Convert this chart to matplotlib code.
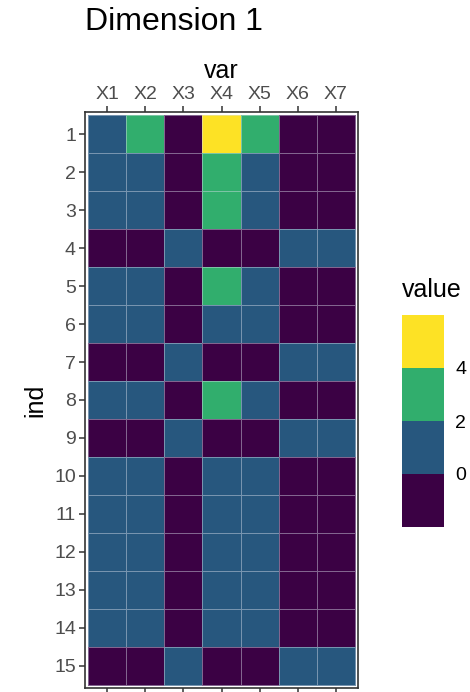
import numpy as np
import matplotlib
matplotlib.use("Agg")
import matplotlib.pyplot as plt
from matplotlib.colors import ListedColormap, BoundaryNorm
import matplotlib.colorbar as mcolorbar

plt.rcParams['font.family'] = ['Liberation Sans', 'DejaVu Sans']

# data: 15 individuals x 7 variables
var_labels = ["X1", "X2", "X3", "X4", "X5", "X6", "X7"]
ind_labels = [str(i) for i in range(1, 16)]
values = np.array([
    [1, 3, -1, 5, 3, -1, -1],
    [1, 1, -1, 3, 1, -1, -1],
    [1, 1, -1, 3, 1, -1, -1],
    [-1, -1, 1, -1, -1, 1, 1],
    [1, 1, -1, 3, 1, -1, -1],
    [1, 1, -1, 1, 1, -1, -1],
    [-1, -1, 1, -1, -1, 1, 1],
    [1, 1, -1, 3, 1, -1, -1],
    [-1, -1, 1, -1, -1, 1, 1],
    [1, 1, -1, 1, 1, -1, -1],
    [1, 1, -1, 1, 1, -1, -1],
    [1, 1, -1, 1, 1, -1, -1],
    [1, 1, -1, 1, 1, -1, -1],
    [1, 1, -1, 1, 1, -1, -1],
    [-1, -1, 1, -1, -1, 1, 1],
])
breaks = [-2, 0, 2, 4, 6]
bin_colors = ["#3b0144", "#27577e", "#31ae6d", "#fde225"]

cmap = ListedColormap(bin_colors)
norm = BoundaryNorm(breaks, cmap.N)

fig = plt.figure(figsize=(4.7, 6.92), dpi=100)
ax = fig.add_axes([85 / 470, 1 - 688 / 692, 273 / 470, 576 / 692])

nr, nc = values.shape
xe = np.arange(nc + 1) + 0.5
ye = np.arange(nr + 1) + 0.5
ax.pcolormesh(xe, ye, values, cmap=cmap, norm=norm,
              edgecolors=(0.85, 0.88, 0.92, 0.45), linewidth=0.6)
ax.set_xlim(0.42, nc + 0.58)
ax.set_ylim(nr + 0.58, 0.42)

ax.set_xticks(np.arange(1, nc + 1))
ax.set_xticklabels(var_labels)
ax.set_yticks(np.arange(1, nr + 1))
ax.set_yticklabels(ind_labels)
ax.xaxis.set_ticks_position('both')
ax.xaxis.set_label_position('top')
ax.tick_params(axis='x', labeltop=True, labelbottom=False)
ax.tick_params(length=4.5, width=1.1, color='#333333', labelsize=14,
               labelcolor='#4d4d4d', pad=2)
ax.set_xlabel("var", fontsize=18, labelpad=6)
ax.set_ylabel("ind", fontsize=18, labelpad=5)
for s in ax.spines.values():
    s.set_color('#333333')
    s.set_linewidth(1.2)

fig.text(85 / 470, 1 - 22 / 692, "Dimension 1", fontsize=23, va='center', ha='left')

# legend (binned colour steps)
cax = fig.add_axes([402 / 470, 1 - 527 / 692, 42 / 470, 212 / 692])
cb = mcolorbar.ColorbarBase(cax, cmap=cmap, norm=norm, boundaries=breaks,
                            ticks=[0, 2, 4], spacing='uniform')
cb.outline.set_visible(False)
cax.minorticks_off()
cax.tick_params(length=0, labelsize=14, pad=8)
cax.set_yticklabels(["0", "2", "4"])
fig.text(402 / 470, 1 - 290 / 692, "value", fontsize=18, va='center', ha='left')

fig.savefig("out.png", dpi=100)
